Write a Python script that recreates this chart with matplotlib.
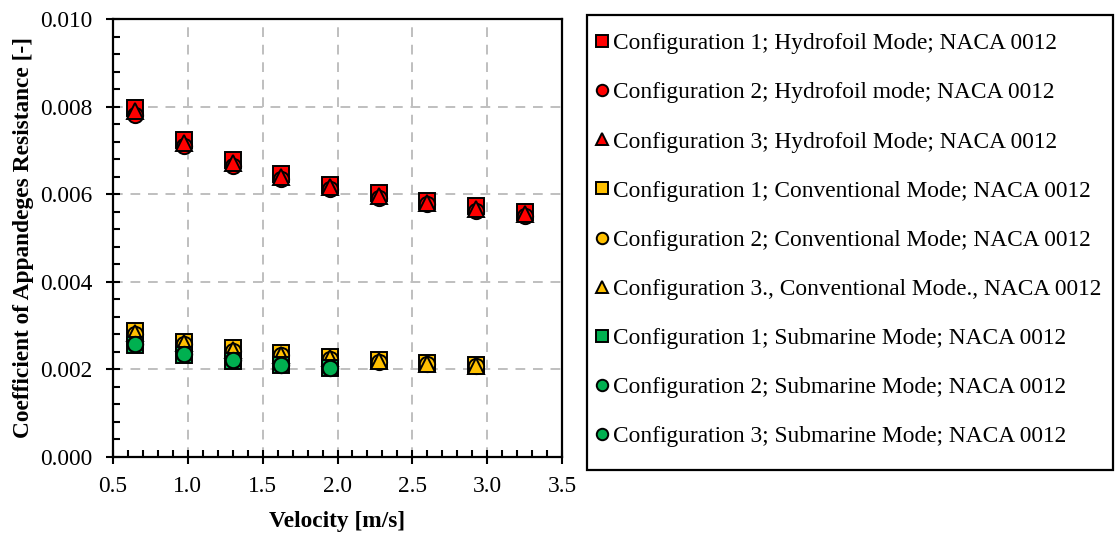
import matplotlib
matplotlib.use("Agg")
import matplotlib.pyplot as plt
from matplotlib.patches import Rectangle
from matplotlib.ticker import MultipleLocator, FormatStrFormatter

plt.rcParams['font.family'] = ['Liberation Serif', 'DejaVu Serif']

# Velocities [m/s]
velocity = [0.65, 0.975, 1.3, 1.625, 1.95, 2.275, 2.6, 2.925, 3.25]
velocity_sub = [0.65, 0.975, 1.3, 1.625, 1.95]

# Hydrofoil mode
hyd_c1 = [0.00796, 0.00723, 0.00678, 0.00645, 0.00622, 0.00602, 0.00585, 0.00572, 0.00560]
hyd_c2 = [0.00780, 0.00711, 0.00664, 0.00635, 0.00611, 0.00592, 0.00577, 0.00562, 0.00551]
hyd_c3 = [0.00789, 0.00718, 0.00671, 0.00640, 0.00617, 0.00597, 0.00581, 0.00567, 0.00555]

# Conventional mode
con_c1 = [0.00288, 0.00263, 0.00248, 0.00237, 0.00229, 0.00221, 0.00215, 0.00210, None]
con_c2 = [0.00280, 0.00257, 0.00243, 0.00232, 0.00224, 0.00218, 0.00212, 0.00207, None]
con_c3 = [0.00284, 0.00260, 0.00245, 0.00234, 0.00226, 0.00219, 0.00213, 0.00208, None]

# Submarine mode
sub_c1 = [0.00255, 0.00233, 0.00220, 0.00210, 0.00203]
sub_c2 = [0.00258, 0.00236, 0.00222, 0.00211, 0.00204]
sub_c3 = [0.00258, 0.00236, 0.00222, 0.00211, 0.00204]

labels = [
    "Configuration 1; Hydrofoil Mode; NACA 0012",
    "Configuration 2; Hydrofoil mode; NACA 0012",
    "Configuration 3; Hydrofoil Mode; NACA 0012",
    "Configuration 1; Conventional Mode; NACA 0012",
    "Configuration 2; Conventional Mode; NACA 0012",
    "Configuration 3., Conventional Mode., NACA 0012",
    "Configuration 1; Submarine Mode; NACA 0012",
    "Configuration 2; Submarine Mode; NACA 0012",
    "Configuration 3; Submarine Mode; NACA 0012",
]

RED, YEL, GRN = "#FF0000", "#FFC000", "#00B050"

def trim(xs, ys):
    pairs = [(x, y) for x, y in zip(xs, ys) if y is not None]
    return [p[0] for p in pairs], [p[1] for p in pairs]

series = [
    (velocity, hyd_c1, "s", RED),
    (velocity, hyd_c2, "o", RED),
    (velocity, hyd_c3, "^", RED),
    (velocity, con_c1, "s", YEL),
    (velocity, con_c2, "o", YEL),
    (velocity, con_c3, "^", YEL),
    (velocity_sub, sub_c1, "s", GRN),
    (velocity_sub, sub_c2, "o", GRN),
    (velocity_sub, sub_c3, "o", GRN),
]

W, H = 1115, 535
fig = plt.figure(figsize=(W / 100, H / 100), dpi=100)
ax = fig.add_axes([113 / W, 1 - 457 / H, (562 - 113) / W, (457 - 19) / H])

handles = []
for (xs, ys, mk, col), lab in zip(series, labels):
    x, y = trim(xs, ys)
    h, = ax.plot(x, y, linestyle="none", marker=mk, markersize=11,
                 markerfacecolor=col, markeredgecolor="black",
                 markeredgewidth=1.4, label=lab, zorder=3)
    handles.append(h)

ax.set_xlim(0.5, 3.5)
ax.set_ylim(0.0, 0.010)
ax.xaxis.set_major_locator(MultipleLocator(0.5))
ax.xaxis.set_minor_locator(MultipleLocator(0.1))
ax.yaxis.set_major_locator(MultipleLocator(0.002))
ax.yaxis.set_minor_locator(MultipleLocator(0.0004))
ax.xaxis.set_major_formatter(FormatStrFormatter("%.1f"))
ax.yaxis.set_major_formatter(FormatStrFormatter("%.3f"))

ax.tick_params(axis="y", which="major", direction="inout", length=10,
               width=1.5, labelsize=16.8, pad=10)
ax.tick_params(axis="x", which="major", direction="inout", length=10,
               width=1.5, labelsize=16.8, pad=9)
ax.tick_params(which="minor", direction="in", length=5, width=1.5)

ax.grid(True, which="major", color="#BFBFBF", linestyle=(0, (5, 4)),
        linewidth=1.4, zorder=0)
ax.set_axisbelow(True)
for s in ax.spines.values():
    s.set_linewidth(1.6)
    s.set_color("black")

ax.set_xlabel("Velocity [m/s]", fontsize=16.8, fontweight="bold", labelpad=10)
ax.set_ylabel("Coefficient of Appandeges Resistance [-]", fontsize=16.8,
              fontweight="bold", labelpad=4)

# Legend entries, with a plain rectangular border drawn around them
leg = fig.legend(handles=handles, loc="upper left",
                 bbox_to_anchor=(596 / W, 1 - 33 / H), fontsize=16.8,
                 frameon=False, labelspacing=1.19, handlelength=0.5,
                 handletextpad=0.22, borderpad=0.0, borderaxespad=0.0,
                 markerscale=0.75)
fig.add_artist(Rectangle((587 / W, 1 - 470 / H), (1113 - 587) / W,
                         (470 - 15) / H, transform=fig.transFigure,
                         fill=False, edgecolor="black", linewidth=1.6))

fig.savefig("out.png", dpi=100)
